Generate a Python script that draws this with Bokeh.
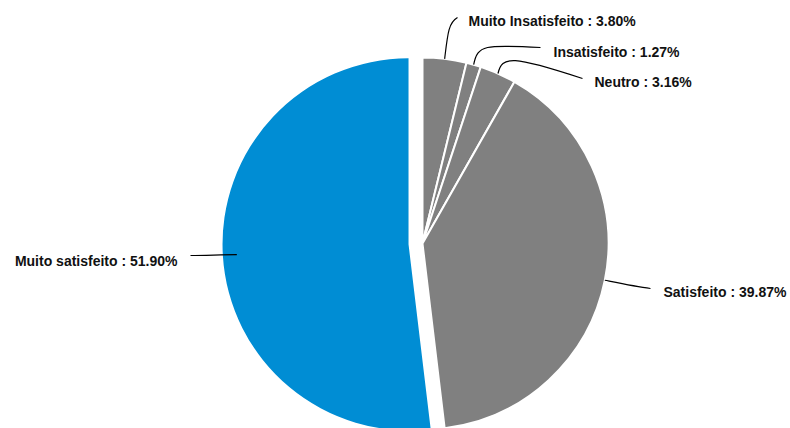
import math
from bokeh.plotting import figure
from bokeh.models import Range1d
from bokeh.core.properties import value
from bokeh.embed import file_html
from bokeh.resources import INLINE

# ---- data ----
categories = ["Muito Insatisfeito", "Insatisfeito", "Neutro", "Satisfeito", "Muito satisfeito"]
percents = [3.80, 1.27, 3.16, 39.87, 51.90]
labels = ["Muito Insatisfeito : 3.80%", "Insatisfeito : 1.27%", "Neutro : 3.16%",
          "Satisfeito : 39.87%", "Muito satisfeito : 51.90%"]

# ---- style / layout ----
GRAY = "#808080"
BLUE = "#008DD4"
colors = [GRAY, GRAY, GRAY, GRAY, BLUE]
explode = [0, 0, 0, 0, 14]
CX, CY_REF = 422, 243  # pie centre in reference pixels
R = 186
W, H = 790, 428
# label anchors (reference pixels) and alignment
label_pos = [(468, 20, "left"), (553, 51, "left"), (594, 81, "left"),
             (663, 291, "left"), (177, 260, "right")]
# leader geometry: control offsets and end (reference pixels)
leader = [
    ((3, -25), (448, 22), (457, 17)),
    ((4, -20), (484, 44), (540, 47)),
    ((4, -18), (512, 55), (582, 78)),
    ((15, 3), (635, 286), (650, 288)),
    ((-15, 0), (205, 255), (190, 255)),
]

def Y(ry):
    return H - ry

p = figure(width=W, height=H, output_backend="svg", toolbar_location=None,
           x_range=Range1d(0, W), y_range=Range1d(0, H),
           min_border=0)
p.axis.visible = False
p.grid.visible = False
p.outline_line_color = None
p.background_fill_color = "white"

total = sum(percents)
cum = 0.0
for i, v in enumerate(percents):
    frac0 = cum / total
    cum += v
    frac1 = cum / total
    start = math.radians(90 - 360 * frac1)
    end = math.radians(90 - 360 * frac0)
    mid = (start + end) / 2
    cx = CX + explode[i] * math.cos(mid)
    cy = Y(CY_REF) + explode[i] * math.sin(mid)
    p.wedge(x=[cx], y=[cy], radius=R, radius_units="screen",
            start_angle=start, end_angle=end, direction="anticlock",
            fill_color=colors[i],
            line_color="white" if i < 4 else None,
            line_width=2)

    # leader line
    sx = CX + R * math.cos(mid)
    sy = Y(CY_REF) + R * math.sin(mid)
    (dx0, dy0), (c1x, c1y), (ex, ey) = leader[i]
    p.bezier(x0=[sx], y0=[sy], x1=[ex], y1=[Y(ey)],
             cx0=[sx + dx0], cy0=[sy - dy0], cx1=[c1x], cy1=[Y(c1y)],
             line_color="black", line_width=1.2)

    lx, ly, al = label_pos[i]
    p.text(x=[lx], y=[Y(ly)], text=[labels[i]], text_align=al,
           text_baseline="middle", text_font=value("Liberation Sans"),
           text_font_style="bold", text_font_size="14px", text_color="#111111")

open("out.html", "w").write(file_html(p, INLINE))
